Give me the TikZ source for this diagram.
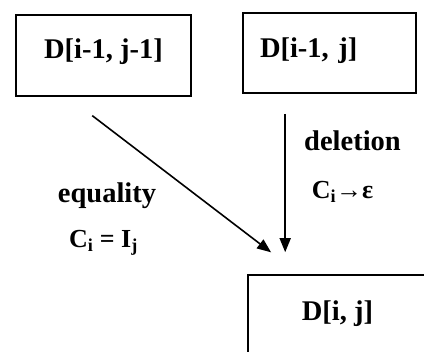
\documentclass[tikz,border=0pt]{standalone}
\usepackage{fontspec}
\setmainfont{Liberation Serif}
\usetikzlibrary{arrows.meta,positioning}

\begin{document}
\begin{tikzpicture}[x=1pt,y=-1pt]
\tikzset{
  cellbox/.style={rectangle,draw,line width=1.6pt,minimum width=175pt,minimum height=81pt,inner sep=0pt,font=\fontsize{28.5}{30}\selectfont\bfseries},
  directed/.style={-{Triangle[length=14pt,width=11pt]},line width=1.6pt},
  oplabel/.style={inner sep=0pt,font=\fontsize{28.5}{30}\selectfont\bfseries},
  rulelabel/.style={inner sep=0pt,font=\fontsize{26}{28}\selectfont\bfseries}
}
\useasboundingbox (0,0) rectangle (424,352);
% the three table cells
\node[cellbox,text depth=14pt] (n_diag) at (103.5,55.5) {D[i-1, j-1]};
\node[cellbox,minimum width=173pt,minimum height=80pt,text width=139pt,align=left,inner xsep=17pt,text depth=10pt] (n_up) at (329.5,53) {D[i-1, j]};
\node[cellbox,minimum width=179pt,text depth=10pt] (n_cur) at (337.5,315.5) {D[i, j]};
% transitions
\draw[directed,shorten <=31pt,shorten >=36pt] ([xshift=52.4pt]n_diag.south west) -- ([xshift=52.5pt]n_cur.north west);
\draw[directed,shorten <=20pt,shorten >=22pt] ([xshift=43pt]n_up.south west) -- ([xshift=38pt]n_cur.north west);
\node[oplabel] (l_del) at (352.5,141) {deletion};
\node[rulelabel] (l_delrule) at (342.5,192) {C\textsubscript{i}→ε};
\node[oplabel] (l_eq) at (107,196) {equality};
\node[rulelabel] (l_eqrule) at (103.5,243) {C\textsubscript{i} = I\textsubscript{j}};
\end{tikzpicture}
\end{document}
